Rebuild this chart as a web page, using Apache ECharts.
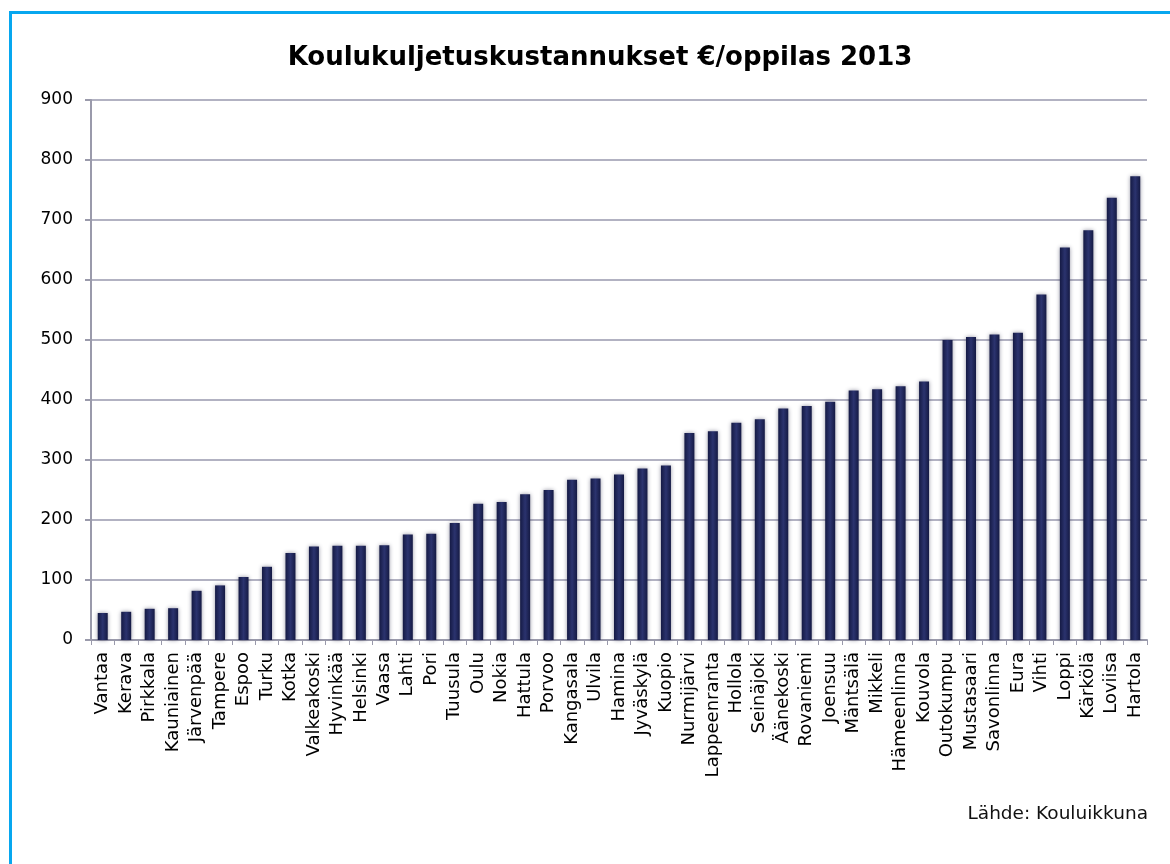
<!DOCTYPE html>
<html>
<head>
<meta charset="utf-8">
<title>Koulukuljetuskustannukset €/oppilas 2013</title>
<script src="https://cdn.jsdelivr.net/npm/echarts@6/dist/echarts.min.js"></script>
<style>
  html, body { margin: 0; padding: 0; background: #ffffff; }
  #chart { width: 1170px; height: 864px; }
</style>
</head>
<body>
<div id="chart"></div>
<script>
// Municipalities, sorted by school transport cost per pupil
const municipalities = [
  'Vantaa', 'Kerava', 'Pirkkala', 'Kauniainen', 'Järvenpää', 'Tampere', 'Espoo', 'Turku', 'Kotka',
  'Valkeakoski', 'Hyvinkää', 'Helsinki', 'Vaasa', 'Lahti', 'Pori', 'Tuusula', 'Oulu', 'Nokia',
  'Hattula', 'Porvoo', 'Kangasala', 'Ulvila', 'Hamina', 'Jyväskylä', 'Kuopio', 'Nurmijärvi',
  'Lappeenranta', 'Hollola', 'Seinäjoki', 'Äänekoski', 'Rovaniemi', 'Joensuu', 'Mäntsälä',
  'Mikkeli', 'Hämeenlinna', 'Kouvola', 'Outokumpu', 'Mustasaari', 'Savonlinna', 'Eura', 'Vihti',
  'Loppi', 'Kärkölä', 'Loviisa', 'Hartola'
];

// Cost in euros per pupil
const costPerPupil = [
  45, 47, 52, 53, 82, 91, 105, 122, 145,
  156, 157, 157, 158, 176, 177, 195, 227, 230,
  243, 250, 267, 269, 276, 286, 291, 345,
  348, 362, 368, 386, 390, 397, 416,
  418, 423, 431, 500, 505, 509, 512, 576,
  654, 683, 737, 773
];

const chartTitle = 'Koulukuljetuskustannukset €/oppilas 2013';
const sourceNote = 'Lähde: Kouluikkuna';

const yMin = 0, yMax = 900, yStep = 100;

const FONT = "'DejaVu Sans', Verdana, sans-serif";

const chart = echarts.init(document.getElementById('chart'), null, { renderer: 'canvas' });

chart.setOption({
  animation: false,
  backgroundColor: '#ffffff',
  grid: { left: 91, right: 23, top: 100, bottom: 224, containLabel: false },
  graphic: [
    {
      type: 'rect',
      shape: { x: 10.5, y: 12.5, width: 1300, height: 1000 },
      style: { fill: 'none', stroke: '#07a7ef', lineWidth: 3 },
      silent: true
    },
    {
      type: 'text',
      x: 600, y: 58,
      style: {
        text: chartTitle,
        fill: '#000000',
        font: "bold 26px " + FONT,
        textAlign: 'center',
        textVerticalAlign: 'middle'
      }
    },
    {
      type: 'text',
      x: 1148, y: 814,
      style: {
        text: sourceNote,
        fill: '#111111',
        font: "18.5px " + FONT,
        textAlign: 'right',
        textVerticalAlign: 'middle'
      }
    }
  ],
  xAxis: {
    type: 'category',
    data: municipalities,
    boundaryGap: true,
    axisLine: { show: true, lineStyle: { color: '#9a9aab', width: 2 } },
    axisTick: { show: true, length: 5, lineStyle: { color: '#9a9aab', width: 1 } },
    axisLabel: {
      interval: 0,
      rotate: 90,
      margin: 12,
      color: '#000000',
      fontFamily: FONT,
      fontSize: 18
    }
  },
  yAxis: {
    type: 'value',
    min: yMin,
    max: yMax,
    interval: yStep,
    axisLine: { show: true, lineStyle: { color: '#9a9aab', width: 2 } },
    axisTick: { show: true, length: 6, lineStyle: { color: '#9a9aab', width: 2 } },
    splitLine: { show: true, lineStyle: { color: '#b2b2c2', width: 2 } },
    axisLabel: {
      margin: 18,
      color: '#000000',
      fontFamily: FONT,
      fontSize: 17
    }
  },
  series: [
    {
      type: 'bar',
      data: costPerPupil,
      barWidth: 10,
      itemStyle: {
        color: new echarts.graphic.LinearGradient(0, 0, 1, 0, [
          { offset: 0, color: '#151a44' },
          { offset: 0.5, color: '#2b336e' },
          { offset: 1, color: '#151a44' }
        ]),
        shadowColor: 'rgba(40, 40, 70, 0.5)',
        shadowBlur: 4,
        shadowOffsetX: 0,
        shadowOffsetY: 0
      }
    }
  ]
});
</script>
</body>
</html>
